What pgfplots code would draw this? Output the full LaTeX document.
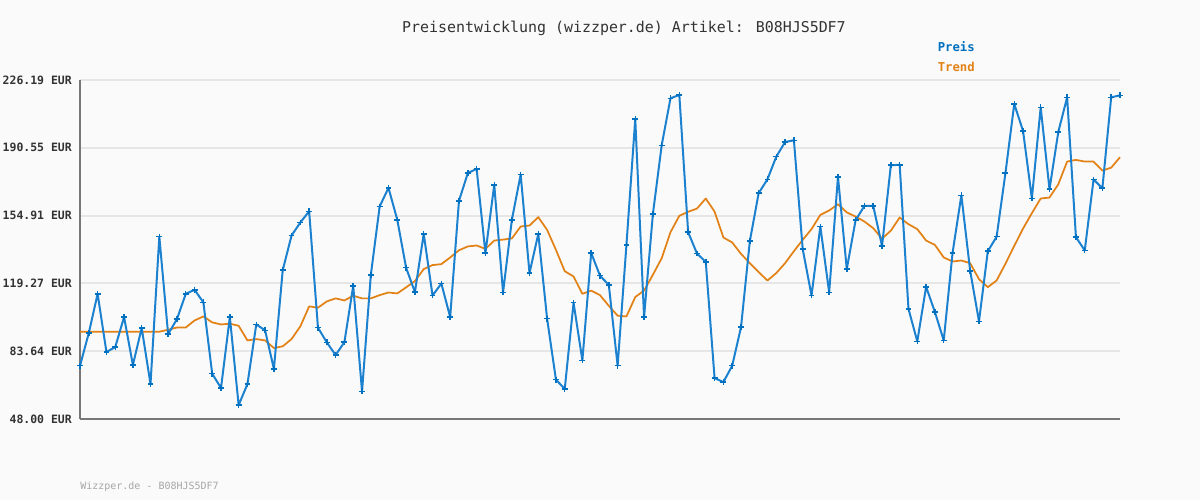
\documentclass[border=0pt]{standalone}
\usepackage{pgfplots}
\pgfplotsset{compat=1.18}
\usepackage{fontspec}
\setmainfont{DejaVu Sans Mono}
\definecolor{bgc}{HTML}{FAFAFA}
\definecolor{gridc}{HTML}{E6E6E6}
\definecolor{axc}{HTML}{777777}
\definecolor{txtc}{HTML}{333333}
\definecolor{preis}{RGB}{28,130,208}
\definecolor{preismark}{RGB}{0,112,192}
\definecolor{trend}{RGB}{226,130,22}
\begin{document}
\begin{tikzpicture}
\begin{scope}[x=0.75pt,y=0.75pt]
\fill[bgc] (0,0) rectangle (1200,500);
\useasboundingbox (0,0) rectangle (1200,500);
\node[text=txtc,font=\fontsize{11.2}{13}\selectfont] at (624,472) {Preisentwicklung (wizzper.de) Artikel: B08HJS5DF7};
\node[anchor=east,text=preismark,font=\fontsize{9.2}{11}\selectfont\bfseries,inner sep=0pt] at (975,453) {Preis};
\node[anchor=east,text=trend,font=\fontsize{9.2}{11}\selectfont\bfseries,inner sep=0pt] at (975,433) {Trend};
\node[anchor=west,text=black!35,font=\fontsize{7.5}{9}\selectfont,inner sep=0pt] at (80,13) {Wizzper.de - B08HJS5DF7};
\end{scope}
\begin{axis}[
  at={(60pt,60.75pt)}, anchor=south west,
  scale only axis, width=780pt, height=254.25pt,
  xmin=0, xmax=118, ymin=48, ymax=226.19,
  axis x line=bottom, axis y line=left,
  axis line style={-, draw=axc, line width=1.5pt},
  xtick=\empty,
  ytick={48,83.64,119.27,154.91,190.55,226.19},
  yticklabels={48.00 EUR,83.64 EUR,119.27 EUR,154.91 EUR,190.55 EUR,226.19 EUR},
  yticklabel style={font=\fontsize{8.6}{10}\selectfont\bfseries, text=txtc, inner xsep=0pt, xshift=-6pt},
  /pgf/number format/assume math mode=true,
  major tick length=0pt,
  ymajorgrids, grid style={draw=gridc, line width=1.5pt},
  clip=false,
]
\addplot[trend, line width=1.3pt, line join=round] coordinates {
(0,93.9)(1,93.9)(2,93.9)(3,93.9)(4,93.9)(5,93.9)(6,93.9)(7,93.9)(8,93.9)(9,93.9)
(10,94.9)(11,96.1)(12,96.1)(13,99.8)(14,101.9)(15,98.8)(16,97.7)(17,98.1)(18,97.0)(19,89.3)
(20,90.0)(21,89.3)(22,85.3)(23,86.2)(24,90.0)(25,96.7)(26,107.2)(27,106.5)(28,109.8)(29,111.4)
(30,110.3)(31,112.8)(32,111.4)(33,111.4)(34,113.1)(35,114.5)(36,114.0)(37,117.2)(38,120.5)(39,126.8)
(40,128.9)(41,129.4)(42,132.9)(43,136.7)(44,138.7)(45,139.2)(46,137.4)(47,141.8)(48,142.3)(49,142.9)
(50,149.2)(51,149.7)(52,154.1)(53,147.4)(54,136.9)(55,125.7)(56,122.9)(57,113.8)(58,115.5)(59,113.1)
(60,107.5)(61,102.3)(62,101.9)(63,112.1)(64,115.5)(65,123.8)(66,132.5)(67,146.2)(68,154.8)(69,156.9)
(70,158.6)(71,163.9)(72,157.0)(73,143.4)(74,140.8)(75,134.8)(76,129.9)(77,125.2)(78,120.8)(79,124.7)
(80,129.9)(81,136.2)(82,142.2)(83,147.8)(84,155.3)(85,157.6)(86,160.9)(87,156.6)(88,154.4)(89,151.8)
(90,148.3)(91,142.8)(92,147.0)(93,153.9)(94,150.4)(95,147.8)(96,141.8)(97,139.5)(98,132.9)(99,130.8)
(100,131.3)(101,129.9)(102,121.5)(103,117.3)(104,120.8)(105,129.6)(106,139.0)(107,148.1)(108,156.2)(109,163.9)
(110,164.4)(111,171.4)(112,183.3)(113,184.2)(114,183.3)(115,183.3)(116,178.6)(117,180.1)(118,185.6)
};
\addplot[preis, line width=1.5pt, line join=round, mark=+, mark size=2.2pt, mark options={solid, draw=preismark, line width=1.1pt}] coordinates {
(0,76.0)(1,93.2)(2,113.8)(3,83.2)(4,85.8)(5,101.6)(6,76.4)(7,95.8)(8,66.4)(9,143.8)
(10,92.6)(11,100.5)(12,113.8)(13,115.9)(14,109.3)(15,71.8)(16,64.3)(17,101.6)(18,55.3)(19,66.4)
(20,97.7)(21,94.6)(22,74.3)(23,126.2)(24,144.4)(25,151.3)(26,157.2)(27,96.0)(28,88.3)(29,81.6)
(30,88.4)(31,118.0)(32,62.5)(33,123.8)(34,159.7)(35,169.5)(36,152.7)(37,127.5)(38,114.7)(39,145.3)
(40,112.9)(41,119.2)(42,101.6)(43,162.7)(44,177.2)(45,179.5)(46,135.2)(47,171.1)(48,114.5)(49,152.7)
(50,176.5)(51,124.7)(52,145.3)(53,100.7)(54,68.7)(55,63.8)(56,109.1)(57,78.8)(58,135.3)(59,123.3)
(60,118.5)(61,76.0)(62,139.5)(63,205.7)(64,101.6)(65,155.7)(66,191.9)(67,216.6)(68,218.3)(69,146.2)
(70,135.0)(71,130.6)(72,69.5)(73,67.4)(74,76.0)(75,96.3)(76,141.5)(77,166.7)(78,174.0)(79,185.9)
(80,193.6)(81,194.5)(82,137.3)(83,112.9)(84,149.2)(85,114.5)(86,175.3)(87,126.8)(88,152.5)(89,160.0)
(90,160.0)(91,138.9)(92,181.4)(93,181.6)(94,105.9)(95,88.8)(96,117.5)(97,104.2)(98,89.3)(99,135.3)
(100,165.6)(101,125.9)(102,99.3)(103,136.2)(104,143.8)(105,177.2)(106,213.6)(107,199.4)(108,163.9)(109,211.8)
(110,168.8)(111,198.9)(112,217.1)(113,143.6)(114,136.6)(115,173.9)(116,169.3)(117,217.1)(118,218.1)
};
\end{axis}
\end{tikzpicture}
\end{document}
